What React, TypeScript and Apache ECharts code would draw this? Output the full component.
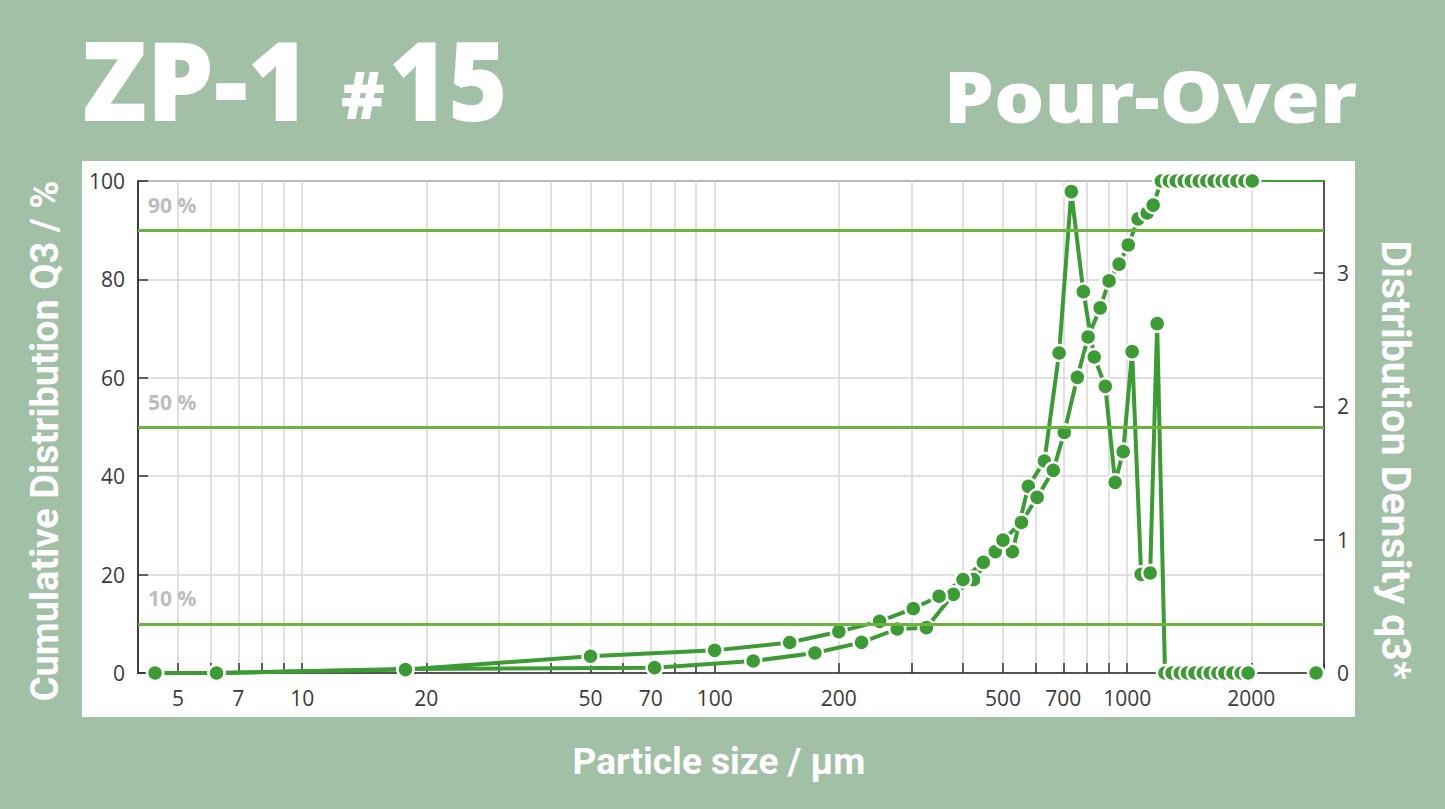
import { useEffect, useRef } from 'react'
import * as echarts from 'echarts'

// particle size (µm) and cumulative distribution Q3 (%)
const cumSize = [
  4.4, 6.2, 17.8, 50, 100, 152, 200, 251, 303, 350, 400, 448, 500, 554, 605, 662, 704, 757, 804,
  860, 904, 956, 1006, 1063, 1118, 1156, 1210, 1265, 1315, 1375, 1430, 1495, 1560, 1625, 1700,
  1765, 1845, 1930, 2010
]
const cumValue = [
  0, 0, 0.7, 3.4, 4.6, 6.2, 8.4, 10.5, 13.1, 15.6, 19.0, 22.5, 27.0, 30.6, 35.7, 41.2, 48.9, 60.1,
  68.3, 74.2, 79.7, 83.1, 87.0, 92.3, 93.5, 95.1, 100, 100, 100, 100, 100, 100, 100, 100, 100, 100,
  100, 100, 100
]
// thin tail of the cumulative curve towards the right edge
const cumTailSize = [2080, 3000]
const cumTailValue = [100, 100]

// particle size (µm) and distribution density q3*
const densSize = [
  4.4, 6.2, 17.8, 71.5, 124, 175, 227, 277, 326, 379, 424, 479, 527, 576, 630, 684, 732, 783, 832,
  885, 935, 978, 1028, 1081, 1137, 1182, 1235, 1285, 1345, 1400, 1460, 1530, 1590, 1660, 1725,
  1805, 1890, 1965, 2400, 2870
]
const densValue: (number | null)[] = [
  0, 0, 0.03, 0.04, 0.09, 0.15, 0.23, 0.33, 0.34, 0.59, 0.7, 0.91, 0.91, 1.4, 1.59, 2.4, 3.61, 2.86,
  2.37, 2.15, 1.43, 1.66, 2.41, 0.74, 0.75, 2.62, 0, 0, 0, 0, 0, 0, 0, 0, 0, 0, 0, 0, null, 0
]

const xTicks = [
  5, 6, 7, 8, 9, 10, 20, 30, 40, 50, 60, 70, 80, 90, 100, 200, 300, 400, 500, 600, 700, 800, 900,
  1000, 2000, 3000
]
const xLabels = [5, 7, 10, 20, 50, 70, 100, 200, 500, 700, 1000, 2000]
const refLines = [10, 50, 90]

const BG = '#a2c0a6'
const GREEN = '#3d9b35'
const REF = '#6cb43e'
const DARK = '#333333'
const GRID = '#d6d6d6'

export default function App() {
  const ref = useRef<HTMLDivElement>(null)

  useEffect(() => {
    if (!ref.current) return
    const chart = echarts.init(ref.current, null, { renderer: 'svg' })
    chart.setOption(buildOption())
    return () => chart.dispose()
  }, [])

  return (
    <div
      ref={ref}
      style={{ position: 'fixed', left: 0, top: 0, width: 1445, height: 809 }}
    />
  )
}

function buildOption() {
  const symbolStyle = { color: GREEN, borderColor: '#ffffff', borderWidth: 2.5 }
  const tickLabel = { color: '#3a3a3a', fontSize: 21, fontFamily: '"Open Sans", sans-serif' }
  const titleFont = '"Roboto", "Open Sans", sans-serif'
  const headFont = '"Open Sans", sans-serif'

  return {
    backgroundColor: BG,
    animation: false,
    graphic: [
      {
        type: 'rect',
        z: -10,
        shape: { x: 82, y: 161, width: 1273, height: 556 },
        style: { fill: '#ffffff' }
      },
      {
        type: 'text',
        x: 82,
        y: 78,
        scaleX: 0.965,
        style: {
          text: 'ZP-1',
          fill: '#ffffff',
          font: `800 110px ${headFont}`,
          align: 'left',
          verticalAlign: 'middle'
        }
      },
      {
        type: 'text',
        x: 341,
        y: 93,
        style: {
          text: '#',
          fill: '#ffffff',
          font: `800 66px ${headFont}`,
          align: 'left',
          verticalAlign: 'middle'
        }
      },
      {
        type: 'text',
        x: 389,
        y: 78,
        scaleX: 0.92,
        style: {
          text: '15',
          fill: '#ffffff',
          font: `800 110px ${headFont}`,
          align: 'left',
          verticalAlign: 'middle'
        }
      },
      {
        type: 'text',
        x: 1357,
        y: 96,
        scaleX: 1.13,
        style: {
          text: 'Pour-Over',
          fill: '#ffffff',
          font: `800 70px ${headFont}`,
          align: 'right',
          verticalAlign: 'middle'
        }
      },
      {
        type: 'text',
        x: 719,
        y: 761,
        style: {
          text: 'Particle size / µm',
          fill: '#ffffff',
          font: `bold 37px ${titleFont}`,
          align: 'center',
          verticalAlign: 'middle'
        }
      },
      {
        type: 'text',
        x: 45,
        y: 441,
        rotation: Math.PI / 2,
        style: {
          text: 'Cumulative Distribution Q3 / %',
          fill: '#ffffff',
          font: `bold 38px ${titleFont}`,
          align: 'center',
          verticalAlign: 'middle'
        }
      },
      {
        type: 'text',
        x: 1396,
        y: 460,
        rotation: -Math.PI / 2,
        style: {
          text: 'Distribution Density q3*',
          fill: '#ffffff',
          font: `bold 41px ${titleFont}`,
          align: 'center',
          verticalAlign: 'middle'
        }
      }
    ],
    grid: {
      left: 138,
      right: 121,
      top: 181,
      bottom: 136,
      show: true,
      backgroundColor: 'transparent',
      borderColor: DARK,
      borderWidth: 1.5
    },
    xAxis: {
      type: 'log',
      logBase: 10,
      min: 4,
      max: 3000,
      axisLine: { lineStyle: { color: DARK, width: 1.5 } },
      axisTick: {
        inside: true,
        length: 10,
        customValues: xTicks,
        lineStyle: { color: DARK, width: 1.5 }
      },
      axisLabel: {
        ...tickLabel,
        margin: 14,
        customValues: xLabels,
        formatter: (v: number) => String(Math.round(v))
      },
      splitLine: { show: true, lineStyle: { color: GRID, width: 1.5 } }
    },
    yAxis: [
      {
        type: 'value',
        min: 0,
        max: 100,
        interval: 20,
        axisLine: { show: true, lineStyle: { color: DARK, width: 1.5 } },
        axisTick: { show: true, inside: true, length: 10, lineStyle: { color: DARK, width: 1.5 } },
        axisLabel: { ...tickLabel, margin: 13 },
        splitLine: { show: true, lineStyle: { color: GRID, width: 1.5 } }
      },
      {
        type: 'value',
        min: 0,
        max: 3.69,
        interval: 1,
        position: 'right',
        axisLine: { show: true, lineStyle: { color: DARK, width: 1.5 } },
        axisTick: { show: true, inside: true, length: 10, lineStyle: { color: DARK, width: 1.5 } },
        axisLabel: { ...tickLabel, margin: 13, showMaxLabel: false },
        splitLine: { show: false }
      }
    ],
    series: [
      {
        name: 'ref',
        type: 'line',
        yAxisIndex: 0,
        data: [],
        silent: true,
        markLine: {
          silent: true,
          symbol: ['none', 'none'],
          lineStyle: { color: REF, width: 3, type: 'solid' },
          label: {
            position: 'insideStartTop',
            distance: [10, 15],
            color: '#bdbdbd',
            fontSize: 21,
            fontWeight: 'bold',
            fontFamily: '"Open Sans", sans-serif',
            formatter: (p: any) => `${p.value} %`
          },
          data: refLines.map((v) => ({ yAxis: v }))
        }
      },
      {
        name: 'q3*',
        type: 'line',
        yAxisIndex: 1,
        silent: true,
        symbol: 'circle',
        symbolSize: 16,
        lineStyle: { color: GREEN, width: 4 },
        itemStyle: symbolStyle,
        data: densSize.map((s, i) => [s, densValue[i] == null ? '-' : densValue[i]])
      },
      {
        name: 'Q3 tail',
        type: 'line',
        yAxisIndex: 0,
        silent: true,
        symbol: 'none',
        lineStyle: { color: GREEN, width: 2 },
        data: cumTailSize.map((s, i) => [s, cumTailValue[i]])
      },
      {
        name: 'Q3',
        type: 'line',
        yAxisIndex: 0,
        silent: true,
        symbol: 'circle',
        symbolSize: 16,
        lineStyle: { color: GREEN, width: 4 },
        itemStyle: symbolStyle,
        data: cumSize.map((s, i) => [s, cumValue[i]])
      }
    ]
  }
}
